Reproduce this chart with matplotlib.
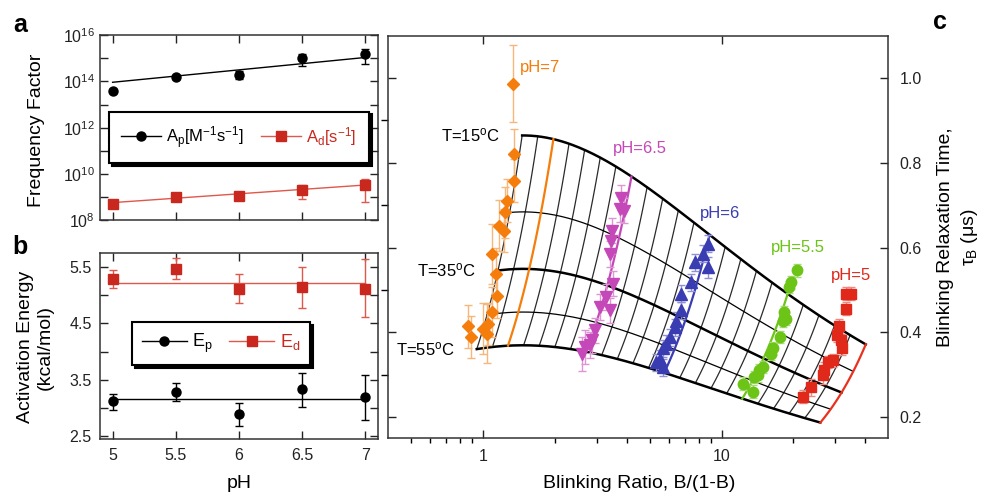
import numpy as np
import matplotlib
matplotlib.use("Agg")
import matplotlib.pyplot as plt
from matplotlib.lines import Line2D
from matplotlib.ticker import FixedLocator, NullFormatter

plt.rcParams['font.family'] = ['Liberation Sans', 'DejaVu Sans']
plt.rcParams['mathtext.fontset'] = 'custom'
plt.rcParams['mathtext.rm'] = 'Liberation Sans'
plt.rcParams['mathtext.it'] = 'Liberation Sans:italic'
plt.rcParams['mathtext.bf'] = 'Liberation Sans:bold'
plt.rcParams['axes.linewidth'] = 1.1
plt.rcParams['axes.edgecolor'] = '#333333'

# ---------------- panel a: Arrhenius frequency factors ----------------
ph = [5.0, 5.5, 6.0, 6.5, 7.0]
ap_log = [13.60, 14.17, 14.29, 15.00, 15.17]
ap_log_hi = [13.68, 14.24, 14.43, 15.17, 15.39]
ap_log_lo = [13.52, 14.10, 14.09, 14.67, 14.74]
ad_log = [8.71, 9.03, 9.06, 9.31, 9.53]
ad_log_hi = [8.76, 9.08, 9.24, 9.53, 9.77]
ad_log_lo = [8.66, 8.98, 8.89, 8.91, 8.81]
fit_ph = [5.0, 7.0]
ap_fit_log = [13.96, 15.03]
ad_fit_log = [8.77, 9.53]

# ---------------- panel b: activation energies (kcal/mol) ----------------
ep = [3.12, 3.28, 2.89, 3.34, 3.19]
ep_hi = [3.26, 3.45, 3.10, 3.63, 3.59]
ep_lo = [2.97, 3.12, 2.68, 3.03, 2.79]
ed = [5.28, 5.46, 5.11, 5.14, 5.11]
ed_hi = [5.45, 5.66, 5.37, 5.50, 5.63]
ed_lo = [5.12, 5.28, 4.86, 4.78, 4.61]
ep_fit = 3.16
ed_fit = 5.22

# ---------------- panel c: kinetic model mesh ----------------
R_KCAL = 1.9872e-3
T_REF = 15.0          # deg C
RATIO_REF = 1.97      # B/(1-B) at pH 7, 15 C
TAU_REF = 0.856       # tau_B (us) at pH 7, 15 C
RATIO_SLOPE = 0.655   # decades of B/(1-B) per pH unit
KD_SLOPE = 0.39       # decades of k_d per pH unit
mesh_temps = [15, 25, 35, 45, 55]
mesh_ph = np.round(np.arange(5.0, 7.201, 0.1), 1)
bold_temps = [15, 35, 55]
ph_line_colors = {7.0: '#f47d0c', 6.5: '#c548b8', 6.0: '#3a3cb2', 5.5: '#6cc417', 5.0: '#e8321e'}

# measured blinking data, one group per pH
c_ph7_x = [1.33, 1.35, 1.35, 1.26, 1.24, 1.17, 1.22, 1.09, 1.13, 1.14, 1.09, 1.05, 1.00, 0.86, 0.89, 1.04]
c_ph7_y = [0.987, 0.820, 0.758, 0.711, 0.683, 0.652, 0.640, 0.585, 0.538, 0.485, 0.448, 0.420, 0.409, 0.414, 0.389, 0.397]
c_ph7_e = [0.090, 0.060, 0.050, 0.050, 0.060, 0.060, 0.050, 0.070, 0.060, 0.050, 0.060, 0.050, 0.060, 0.050, 0.050, 0.070]

c_ph65_x = [3.80, 3.74, 3.90, 3.48, 3.45, 3.40, 3.51, 3.29, 3.09, 3.40, 2.94, 2.85, 2.80, 2.67, 2.59]
c_ph65_y = [0.718, 0.691, 0.687, 0.640, 0.616, 0.585, 0.515, 0.483, 0.460, 0.452, 0.405, 0.381, 0.370, 0.365, 0.350]
c_ph65_e = [0.030, 0.030, 0.030, 0.030, 0.030, 0.030, 0.030, 0.030, 0.030, 0.030, 0.030, 0.030, 0.030, 0.040, 0.040]

c_ph6_x = [8.77, 8.36, 8.77, 7.71, 7.47, 6.78, 6.78, 6.45, 6.35, 6.06, 5.87, 5.68, 5.50, 5.33, 5.68]
c_ph6_y = [0.609, 0.585, 0.554, 0.565, 0.518, 0.491, 0.452, 0.428, 0.412, 0.389, 0.373, 0.362, 0.338, 0.330, 0.318]
c_ph6_e = [0.020, 0.020, 0.025, 0.020, 0.020, 0.020, 0.020, 0.020, 0.020, 0.020, 0.020, 0.020, 0.020, 0.020, 0.020]

c_ph55_x = [20.7, 19.5, 19.2, 18.3, 18.6, 18.1, 17.5, 16.4, 16.1, 14.9, 14.4, 14.2, 13.7, 12.3, 13.5]
c_ph55_y = [0.546, 0.518, 0.507, 0.448, 0.432, 0.428, 0.389, 0.362, 0.350, 0.318, 0.311, 0.299, 0.295, 0.279, 0.260]
c_ph55_e = [0.015] * 15

c_ph5_x = [33.2, 34.9, 33.2, 31.1, 30.6, 31.7, 32.0, 29.2, 27.9, 26.9, 26.5, 23.7, 21.9]
c_ph5_y = [0.491, 0.491, 0.456, 0.416, 0.393, 0.381, 0.362, 0.334, 0.330, 0.311, 0.299, 0.271, 0.248]
c_ph5_e = [0.015, 0.015, 0.015, 0.015, 0.015, 0.015, 0.015, 0.015, 0.015, 0.020, 0.020, 0.020, 0.015]

groups = [
    (c_ph7_x, c_ph7_y, c_ph7_e, 'D', 6.5, '#f47d0c', '#f7b77a', 'pH=7', (1.43, 1.026)),
    (c_ph65_x, c_ph65_y, c_ph65_e, 'v', 8.5, '#c548b8', '#dd95d3', 'pH=6.5', (3.50, 0.833)),
    (c_ph6_x, c_ph6_y, c_ph6_e, '^', 8.5, '#3a3cb2', '#8f90d6', 'pH=6', (8.09, 0.680)),
    (c_ph55_x, c_ph55_y, c_ph55_e, 'o', 7.5, '#6cc417', '#a9dc78', 'pH=5.5', (16.1, 0.601)),
    (c_ph5_x, c_ph5_y, c_ph5_e, 's', 7.0, '#e0281b', '#ee8a80', 'pH=5', (28.7, 0.534)),
]


def model(pH, t_c):
    """Blinking ratio and relaxation time from the Arrhenius rate model."""
    inv = 1.0 / (R_KCAL * (t_c + 273.15)) - 1.0 / (R_KCAL * (T_REF + 273.15))
    ratio = RATIO_REF * 10 ** (RATIO_SLOPE * (7.0 - pH)) * np.exp((ed_fit - ep_fit) * inv)
    kd_rel = 10 ** (KD_SLOPE * (pH - 7.0)) * np.exp(-ed_fit * inv)
    tau = TAU_REF * (1 + RATIO_REF) / (kd_rel * (1 + ratio))
    return ratio, tau


RED = '#c8281e'
RED_LINE = '#e0574b'
FS_TICK = 11.5
FS_LABEL = 14

fig = plt.figure(figsize=(9.86, 4.96), dpi=100)

# ---------------- panel a ----------------
ax_a = fig.add_axes([0.1014, 0.5555, 0.2820, 0.3740])
ax_a.set_yscale('log')
ax_a.plot(fit_ph, [10 ** v for v in ap_fit_log], color='black', lw=1.0, zorder=2)
ax_a.plot(fit_ph, [10 ** v for v in ad_fit_log], color=RED_LINE, lw=1.0, zorder=2)
ap_val = np.power(10.0, ap_log)
ad_val = np.power(10.0, ad_log)
ax_a.errorbar(ph, ap_val,
              yerr=[ap_val - np.power(10.0, ap_log_lo), np.power(10.0, ap_log_hi) - ap_val],
              fmt='o', color='black', ms=6.5, elinewidth=1, capsize=3, zorder=3)
ax_a.errorbar(ph, ad_val,
              yerr=[ad_val - np.power(10.0, ad_log_lo), np.power(10.0, ad_log_hi) - ad_val],
              fmt='s', color=RED, ecolor=RED_LINE, ms=6.5, elinewidth=1, capsize=3, zorder=3)
ax_a.set_xlim(4.9, 7.1)
ax_a.set_ylim(1e8, 1e16)
ax_a.yaxis.set_major_locator(FixedLocator([10.0 ** k for k in range(8, 17)]))
ax_a.yaxis.set_minor_locator(FixedLocator([]))
ax_a.set_yticklabels(['$10^{%d}$' % k if k % 2 == 0 else '' for k in range(8, 17)])
ax_a.set_xticks(ph)
ax_a.set_xticklabels([])
ax_a.tick_params(direction='in', top=True, right=True, length=6, width=1.0,
                 labelsize=FS_TICK, colors='#222222')

h_ap = Line2D([], [], color='black', lw=1, marker='o', ms=6.5)
h_ad = Line2D([], [], color=RED_LINE, lw=1, marker='s', ms=6.5, mfc=RED, mec=RED)
leg_a = ax_a.legend([h_ap, h_ad],
                    ['A$_{\\rm p}$[M$^{-1}$s$^{-1}$]', 'A$_{\\rm d}$[s$^{-1}$]'],
                    loc='center', bbox_to_anchor=(0.50, 0.448), ncol=2, fontsize=12,
                    handlelength=2.4, columnspacing=1.0, handletextpad=0.3,
                    fancybox=False, framealpha=1, edgecolor='black',
                    shadow={'color': 'black', 'alpha': 1.0}, borderpad=0.75,
                    borderaxespad=0)
leg_a.get_frame().set_linewidth(1.5)
leg_a.get_texts()[1].set_color(RED)

# ---------------- panel b ----------------
ax_b = fig.add_axes([0.1014, 0.1143, 0.2820, 0.3762])
ax_b.plot(fit_ph, [ed_fit, ed_fit], color=RED_LINE, lw=1.0, zorder=2)
ax_b.plot(fit_ph, [ep_fit, ep_fit], color='black', lw=1.0, zorder=2)
ax_b.errorbar(ph, ep, yerr=[np.subtract(ep, ep_lo), np.subtract(ep_hi, ep)],
              fmt='o', color='black', ms=6.5, elinewidth=1, capsize=3, zorder=3)
ax_b.errorbar(ph, ed, yerr=[np.subtract(ed, ed_lo), np.subtract(ed_hi, ed)],
              fmt='s', color=RED, ecolor=RED_LINE, ms=6.5, elinewidth=1, capsize=3, zorder=3)
ax_b.set_xlim(4.9, 7.1)
ax_b.set_ylim(2.45, 5.75)
b_ticks = [2.5, 3.0, 3.5, 4.0, 4.5, 5.0, 5.5]
ax_b.set_yticks(b_ticks)
ax_b.set_yticklabels([('%.1f' % t) if (t * 2) % 2 == 1 else '' for t in b_ticks])
ax_b.set_xticks(ph)
ax_b.set_xticklabels(['5', '5.5', '6', '6.5', '7'])
ax_b.tick_params(direction='in', top=True, right=True, length=6, width=1.0,
                 labelsize=FS_TICK, colors='#222222', pad=6)

h_ep = Line2D([], [], color='black', lw=1, marker='o', ms=6.5)
h_ed = Line2D([], [], color=RED_LINE, lw=1, marker='s', ms=6.5, mfc=RED, mec=RED)
leg_b = ax_b.legend([h_ep, h_ed], ['E$_{\\rm p}$', 'E$_{\\rm d}$'],
                    loc='center', bbox_to_anchor=(0.435, 0.513), ncol=2, fontsize=13,
                    handlelength=2.5, columnspacing=0.9, handletextpad=0.3,
                    fancybox=False, framealpha=1, edgecolor='black',
                    shadow={'color': 'black', 'alpha': 1.0}, borderpad=0.55,
                    borderaxespad=0)
leg_b.get_frame().set_linewidth(1.5)
leg_b.get_texts()[1].set_color(RED)

# ---------------- panel c ----------------
ax_c = fig.add_axes([0.3938, 0.1163, 0.5071, 0.8117])
ax_c.set_xscale('log')

t_fine = np.linspace(min(mesh_temps), max(mesh_temps), 80)
for p in mesh_ph:
    rx, ty = model(p, t_fine)
    key = round(float(p), 1)
    if key in ph_line_colors:
        ax_c.plot(rx, ty, color=ph_line_colors[key], lw=1.6, zorder=3.5)
    else:
        ax_c.plot(rx, ty, color='#2a2a2a', lw=0.9, zorder=2)

ph_fine = np.linspace(mesh_ph.min(), mesh_ph.max(), 200)
for t in mesh_temps:
    rx, ty = model(ph_fine, t)
    ax_c.plot(rx, ty, color='black', lw=1.8 if t in bold_temps else 0.9, zorder=3)

for t in bold_temps:
    rx0, ty0 = model(mesh_ph.max(), t)
    ax_c.annotate('T=%d$^{\\rm o}$C' % t, xy=(rx0, ty0), xytext=(-16, 0),
                  textcoords='offset points', ha='right', va='center', fontsize=12)

for gx, gy, ge, mk, ms, col, ecol, lab, pos in groups:
    ax_c.errorbar(gx, gy, yerr=ge, fmt=mk, color=col, ecolor=ecol, ms=ms,
                  elinewidth=1, capsize=3, zorder=5)
    ax_c.text(pos[0], pos[1], lab, color=col, fontsize=12, ha='left', va='center')

ax_c.set_xlim(0.4, 50)
ax_c.set_ylim(0.15, 1.1)
ax_c.yaxis.set_major_locator(FixedLocator([0.2, 0.4, 0.6, 0.8, 1.0]))
ax_c.yaxis.set_minor_locator(FixedLocator([0.3, 0.5, 0.7, 0.9]))
ax_c.set_yticklabels(['0.2', '0.4', '0.6', '0.8', '1.0'])
ax_c.xaxis.set_major_locator(FixedLocator([1, 10]))
ax_c.set_xticklabels(['1', '10'])
ax_c.xaxis.set_minor_locator(FixedLocator([0.5, 0.6, 0.7, 0.8, 0.9, 2, 3, 4, 5, 6, 7, 8, 9,
                                           20, 30, 40]))
ax_c.xaxis.set_minor_formatter(NullFormatter())
ax_c.tick_params(direction='in', top=True, left=True, right=True, bottom=True,
                 labelleft=False, labelright=True, labelsize=FS_TICK, colors='#222222')
ax_c.tick_params(axis='x', which='major', length=6, width=1.0, pad=8)
ax_c.tick_params(axis='x', which='minor', length=3.5, width=1.0)
ax_c.tick_params(axis='y', which='major', length=6, width=1.0, pad=8)
ax_c.tick_params(axis='y', which='minor', length=5, width=1.0)

# ---------------- labels ----------------
fig.text(0.0375, 0.738, 'Frequency Factor', rotation=90, ha='center', va='center', fontsize=FS_LABEL)
fig.text(0.036, 0.300, 'Activation Energy\n(kcal/mol)', rotation=90, ha='center', va='center',
         fontsize=FS_LABEL, linespacing=1.25)
fig.text(0.2424, 0.026, 'pH', ha='center', va='center', fontsize=FS_LABEL)
fig.text(0.648, 0.026, 'Blinking Ratio, B/(1-B)', ha='center', va='center', fontsize=FS_LABEL)
fig.text(0.972, 0.522, 'Blinking Relaxation Time,\nτ$_{\\rm B}$ (μs)', rotation=90,
         ha='center', va='center', fontsize=FS_LABEL, linespacing=1.35)

for lab, (lx, ly) in {'a': (0.020, 0.950), 'b': (0.020, 0.502), 'c': (0.953, 0.955)}.items():
    fig.text(lx, ly, lab, fontsize=18, fontweight='bold', ha='center', va='center')

fig.savefig('out.png', dpi=100)
